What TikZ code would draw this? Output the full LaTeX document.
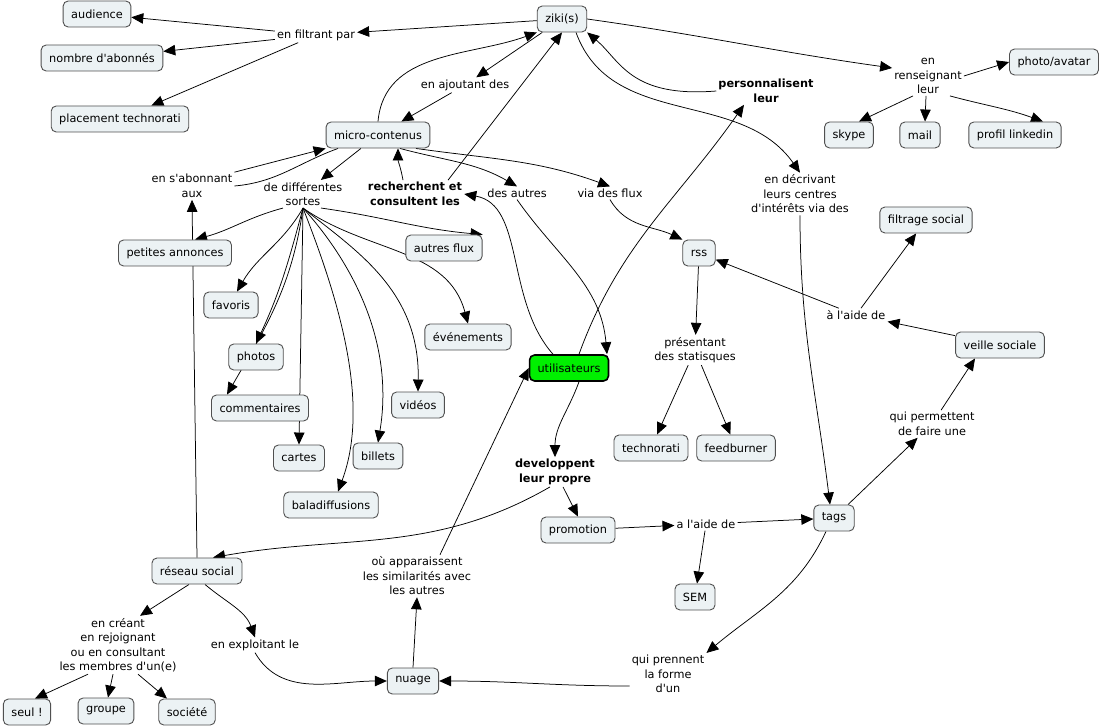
\documentclass[tikz,border=0pt]{standalone}
\usepackage{fontspec}
\setmainfont{DejaVu Sans}[Ligatures=TeXOff]
\usepackage{xcolor}
\definecolor{conceptfill}{HTML}{ECF2F4}
\definecolor{conceptdraw}{HTML}{505050}
\definecolor{usergreen}{HTML}{00F000}
\usepackage{tikz}
\usetikzlibrary{arrows.meta, positioning, backgrounds}

\begin{document}
\begin{tikzpicture}[x=1pt, y=-1pt, >={Triangle[length=12pt,width=10.5pt]},
  font=\fontsize{11.3}{14.5}\selectfont,
  concept/.style={draw=conceptdraw, fill=conceptfill, rounded corners=5pt,
                  line width=0.9pt, minimum height=26pt, inner xsep=8pt},
  phrase/.style={inner sep=2pt, align=center},
  boldphrase/.style={phrase, font=\fontsize{11.3}{14.5}\selectfont\bfseries},
  link/.style={->, line width=0.75pt},
  plain/.style={line width=0.75pt}]

  \useasboundingbox (0,0) rectangle (1105,727);

  \node[concept] (ziki) at (562,19) {ziki(s)};
  \node[concept] (audience) at (97,14) {audience};
  \node[concept] (abonnes) at (102,58) {nombre d'abonnés};
  \node[concept] (placement) at (120,119) {placement technorati};
  \node[concept] (micro) at (378,135) {micro-contenus};
  \node[concept] (petites) at (175,253) {petites annonces};
  \node[concept] (autresflux) at (444,248) {autres flux};
  \node[concept] (favoris) at (231,305) {favoris};
  \node[concept] (photos) at (256,357) {photos};
  \node[concept] (commentaires) at (260,408) {commentaires};
  \node[concept] (cartes) at (299,458) {cartes};
  \node[concept] (billets) at (378,456) {billets};
  \node[concept] (baladif) at (331,505) {baladiffusions};
  \node[concept] (videos) at (418,405) {vidéos};
  \node[concept] (evenements) at (468,337) {événements};
  \node[concept, fill=usergreen, draw=black, line width=1.6pt] (users) at (569,368) {utilisateurs};
  \node[concept] (rss) at (699,253) {rss};
  \node[concept] (technorati) at (651,448) {technorati};
  \node[concept] (feedburner) at (736,448) {feedburner};
  \node[concept] (filtrage) at (926,220) {filtrage social};
  \node[concept] (veille) at (1000,345) {veille sociale};
  \node[concept] (tags) at (834,518) {tags};
  \node[concept] (promotion) at (578,530) {promotion};
  \node[concept] (sem) at (695,597) {SEM};
  \node[concept] (reseau) at (197,571) {réseau social};
  \node[concept] (nuage) at (413,681) {nuage};
  \node[concept] (seul) at (27,712) {seul !};
  \node[concept] (groupe) at (106,711) {groupe};
  \node[concept] (societe) at (187,712) {société};
  \node[concept] (avatar) at (1054,62) {photo/avatar};
  \node[concept] (skype) at (849,135) {skype};
  \node[concept] (mail) at (920,135) {mail};
  \node[concept] (linkedin) at (1015,135) {profil linkedin};

  \node[phrase] (filtrant) at (316,35) {en filtrant par};
  \node[phrase] (ajoutant) at (465,85) {en ajoutant des};
  \node[boldphrase] (perso) at (766,91) {personnalisent\\leur};
  \node[phrase] (rens) at (928,76) {en\\renseignant\\leur};
  \node[phrase] (abonnant) at (192,186) {en s'abonnant\\aux};
  \node[phrase] (sortes) at (303,194) {de différentes\\sortes};
  \node[boldphrase] (recherche) at (415,194) {recherchent et\\consultent les};
  \node[phrase] (desautres) at (517,193) {des autres};
  \node[phrase] (viaflux) at (610,193) {via des flux};
  \node[phrase] (decrivant) at (800,194) {en décrivant\\leurs centres\\d'intérêts via des};
  \node[phrase] (aide) at (856,315) {à l'aide de};
  \node[phrase] (presentant) at (695,350) {présentant\\des statisques};
  \node[phrase] (permettent) at (932,424) {qui permettent\\de faire une};
  \node[boldphrase] (develop) at (555,472) {developpent\\leur propre};
  \node[phrase] (aide2) at (706,524) {a l'aide de};
  \node[phrase] (apparaissent) at (417,576) {où apparaissent\\les similarités avec\\les autres};
  \node[phrase] (creant) at (118,645) {en créant\\en rejoignant\\ou en consultant\\les membres d'un(e)};
  \node[phrase] (exploitant) at (255,645) {en exploitant le};
  \node[phrase] (prennent) at (668,674) {qui prennent\\la forme\\d'un};

  \begin{scope}[on background layer]
    \draw[link] (ziki) -- (filtrant);
    \draw[link] (filtrant) -- (audience);
    \draw[link] (filtrant) -- (abonnes);
    \draw[link] (filtrant) -- (placement);
    \draw[link] (ziki) -- (ajoutant);
    \draw[link] (ajoutant) -- (micro);
    \draw[link] (micro.north) to[out=85,in=200] (ziki.south west);
    \draw[link] ([xshift=33pt]recherche.north) -- (ziki.south);
    \draw[link] ([xshift=-12pt]recherche.north) to[out=100,in=-90] ([xshift=20pt]micro.south);
    \draw[link] ([xshift=-16pt]users.north) .. controls (505,300) and (525,205) .. (recherche.east);
    \draw[link] ([xshift=22pt]micro.south) to[out=-15,in=150] (desautres.north);
    \draw[link] (desautres.south) to[out=-55,in=95] ([xshift=38pt]users.north);
    \draw[link] ([xshift=38pt]micro.south) to[out=-8,in=160] (viaflux.north);
    \draw[link] (viaflux.south) to[out=-60,in=155] (rss.north west);
    \draw[link] (micro) -- (sortes);
    \draw[link] (abonnant.north east) -- (micro.south west);
    \draw[plain] (abonnant.east) to[out=5,in=200] ([xshift=-40pt]micro.south);
    \draw[link] (reseau.north) -- (abonnant.south);
    \draw[link] ([xshift=-20pt]sortes.south) to[out=195,in=15] ([xshift=20pt]petites.north);
    \draw[link] (sortes.south) to[out=-120,in=60] ([xshift=6pt]favoris.north);
    \draw[link] (sortes.south) to[out=-105,in=65] (photos.north);
    \draw[link] (sortes.south) to[out=-98,in=60] ([xshift=-33pt]commentaires.north);
    \draw[link] (sortes.south) -- (cartes.north);
    \draw[link] (sortes.south) .. controls (335,290) and (372,400) .. ([xshift=7pt]baladif.north);
    \draw[link] (sortes.south) .. controls (350,260) and (395,340) .. (billets.north);
    \draw[link] (sortes.south) .. controls (355,250) and (420,290) .. (videos.north);
    \draw[link] (sortes.south) to[out=-35,in=105] (evenements.north);
    \draw[link] ([xshift=18pt]sortes.south) to[out=-8,in=175] (autresflux.north east);
    \draw[link] ([xshift=14pt]ziki.south) to[out=-70,in=125] (decrivant.north);
    \draw[link] (decrivant.south) to[out=-90,in=97] ([xshift=-4pt]tags.north);
    \draw[link] (perso.west) .. controls (630,98) and (620,60) .. (ziki.south east);
    \draw[link] ([xshift=10pt]users.north) to[out=70,in=-125] ([xshift=-22pt]perso.south);
    \draw[link] (ziki.east) to[out=-8,in=172] ([yshift=8pt]rens.west);
    \draw[link] (rens.east) -- (avatar.west);
    \draw[link] ([xshift=-15pt]rens.south) -- ([xshift=10pt]skype.north);
    \draw[link] ([xshift=-2pt]rens.south) -- ([xshift=5pt]mail.north);
    \draw[link] ([xshift=22pt]rens.south) to[out=-15,in=160] ([xshift=28pt]linkedin.north);
    \draw[link] (rss) -- (presentant);
    \draw[link] (presentant) -- (technorati);
    \draw[link] (presentant) -- (feedburner);
    \draw[link] (veille) -- (aide);
    \draw[link] (aide) -- (rss);
    \draw[link] (aide) -- (filtrage);
    \draw[link] (tags) -- (permettent);
    \draw[link] (permettent) -- ([xshift=-25pt]veille.south);
    \draw[link] ([xshift=10pt]users.south) to[out=-110,in=90] (develop.north);
    \draw[link] ([xshift=8pt]develop.south) -- (promotion.north);
    \draw[link] ([xshift=-5pt]develop.south) to[out=-150,in=10] ([xshift=16pt]reseau.north);
    \draw[link] (promotion) -- (aide2);
    \draw[link] (aide2) -- (tags);
    \draw[link] (aide2) -- (sem);
    \draw[link] ([xshift=-8pt]tags.south) to[out=-115,in=40] (prennent.north east);
    \draw[link] ([yshift=-12pt]prennent.west) to[out=180,in=0] (nuage.east);
    \draw[link] (nuage.north) -- (apparaissent.south);
    \draw[link] ([xshift=23pt]apparaissent.north) -- (users.west);
    \draw[link] ([xshift=-8pt]reseau.south) -- ([xshift=22pt]creant.north);
    \draw[link] ([xshift=-30pt]creant.south) -- ([xshift=8pt]seul.north);
    \draw[link] ([xshift=-5pt]creant.south) -- ([xshift=2pt]groupe.north);
    \draw[link] ([xshift=20pt]creant.south) -- ([xshift=-20pt]societe.north);
    \draw[link] ([xshift=8pt]reseau.south) to[out=-40,in=110] (exploitant.north);
    \draw[link] (exploitant.south) to[out=-60,in=180] (nuage.west);
  \end{scope}

\end{tikzpicture}
\end{document}
